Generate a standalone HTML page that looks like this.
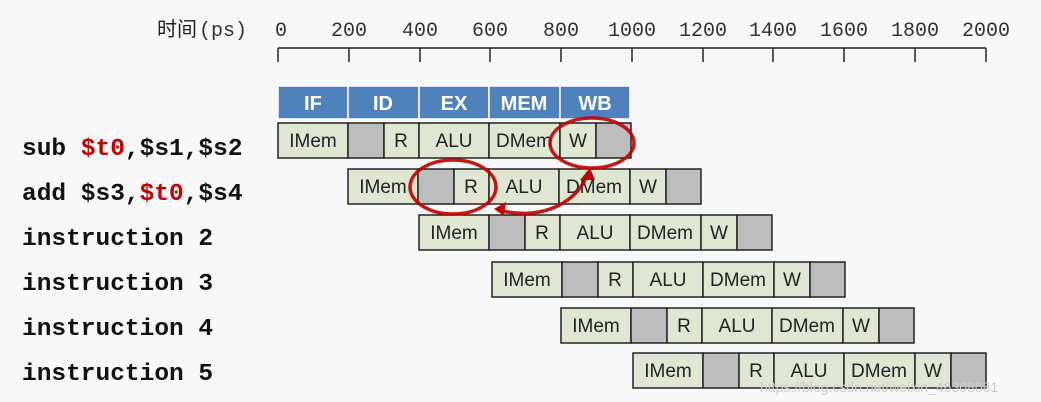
<!DOCTYPE html>
<html><head><meta charset="utf-8"><style>
body{margin:0;background:#f8f8f8;}
svg{display:block}
.lab{font-family:"Liberation Mono",monospace;font-weight:bold;font-size:24.5px;fill:#111}
.ax{font-family:"Liberation Mono",monospace;font-size:20px;fill:#333}
.c{font-family:"Liberation Sans",sans-serif;font-size:19px;fill:#222;text-anchor:middle}
.h{font-family:"Liberation Sans",sans-serif;font-size:20px;font-weight:bold;fill:#fff;text-anchor:middle}
</style></head><body>
<svg width="1041" height="402" xmlns="http://www.w3.org/2000/svg">
<rect width="1041" height="402" fill="#f8f8f8"/>
<text x="157" y="36" font-family="Liberation Sans,'Noto Sans CJK SC',sans-serif" font-size="20" fill="#222">时间</text>
<text x="199" y="36" class="ax">(ps)</text>
<g class="ax" text-anchor="middle">
<text x="281" y="36">0</text><text x="349" y="36">200</text><text x="420" y="36">400</text><text x="490" y="36">600</text><text x="561" y="36">800</text><text x="632" y="36">1000</text><text x="703" y="36">1200</text><text x="773" y="36">1400</text><text x="844" y="36">1600</text><text x="915" y="36">1800</text><text x="986" y="36">2000</text>
</g>
<g stroke="#222" stroke-width="1.5">
<line x1="278" y1="48" x2="986" y2="48"/>
<line x1="278" y1="48" x2="278" y2="62"/><line x1="349" y1="48" x2="349" y2="62"/><line x1="420" y1="48" x2="420" y2="62"/><line x1="490" y1="48" x2="490" y2="62"/><line x1="561" y1="48" x2="561" y2="62"/><line x1="632" y1="48" x2="632" y2="62"/><line x1="703" y1="48" x2="703" y2="62"/><line x1="773" y1="48" x2="773" y2="62"/><line x1="844" y1="48" x2="844" y2="62"/><line x1="915" y1="48" x2="915" y2="62"/><line x1="986" y1="48" x2="986" y2="62"/>
</g>
<g fill="#4f81bd" stroke="#fff" stroke-width="1.5">
<rect x="278" y="86" width="70" height="33"/><rect x="348" y="86" width="71" height="33"/><rect x="419" y="86" width="70" height="33"/><rect x="489" y="86" width="71" height="33"/><rect x="560" y="86" width="70" height="33"/>
</g>
<g class="h"><text x="313" y="110">IF</text><text x="383" y="110">ID</text><text x="454" y="110">EX</text><text x="524" y="110">MEM</text><text x="595" y="110">WB</text></g>
<g class="lab">
<text x="22" y="155">sub <tspan fill="#c00000">$t0</tspan>,$s1,$s2</text>
<text x="22" y="200">add $s3,<tspan fill="#c00000">$t0</tspan>,$s4</text>
<text x="22" y="245">instruction 2</text>
<text x="22" y="290">instruction 3</text>
<text x="22" y="335">instruction 4</text>
<text x="22" y="380">instruction 5</text>
</g>
<defs>
<g id="row">
<g stroke="#222" stroke-width="1.5">
<rect x="0" y="0" width="70" height="35" fill="#dfe7d2"/>
<rect x="70" y="0" width="36" height="35" fill="#bdbdbd"/>
<rect x="106" y="0" width="35" height="35" fill="#dfe7d2"/>
<rect x="141" y="0" width="70" height="35" fill="#dfe7d2"/>
<rect x="211" y="0" width="71" height="35" fill="#dfe7d2"/>
<rect x="282" y="0" width="36" height="35" fill="#dfe7d2"/>
<rect x="318" y="0" width="35" height="35" fill="#bdbdbd"/>
</g>
<g class="c"><text x="35" y="24">IMem</text><text x="123" y="24">R</text><text x="176" y="24">ALU</text><text x="246" y="24">DMem</text><text x="300" y="24">W</text></g>
</g>
</defs>
<use href="#row" x="278" y="123"/>
<use href="#row" x="348" y="169"/>
<use href="#row" x="419" y="215"/>
<use href="#row" x="492" y="262"/>
<use href="#row" x="561" y="308"/>
<use href="#row" x="633" y="353"/>
<g fill="none" stroke="#c00000" stroke-width="3.5" opacity="0.9">
<ellipse cx="592" cy="143" rx="42" ry="25"/>
<ellipse cx="453" cy="187" rx="43" ry="27"/>
<path d="M588 172 C 580 200, 545 222, 498 210"/>
</g>
<g fill="#c00000">
<polygon points="590,168 580,180 595,180"/>
<polygon points="494,209 506,202 504,216"/>
</g>
<text x="760" y="392" font-family="Liberation Sans,sans-serif" font-size="14" fill="#ccc">https://blog.csdn.net/weixin_46308081</text>
</svg>
</body></html>
